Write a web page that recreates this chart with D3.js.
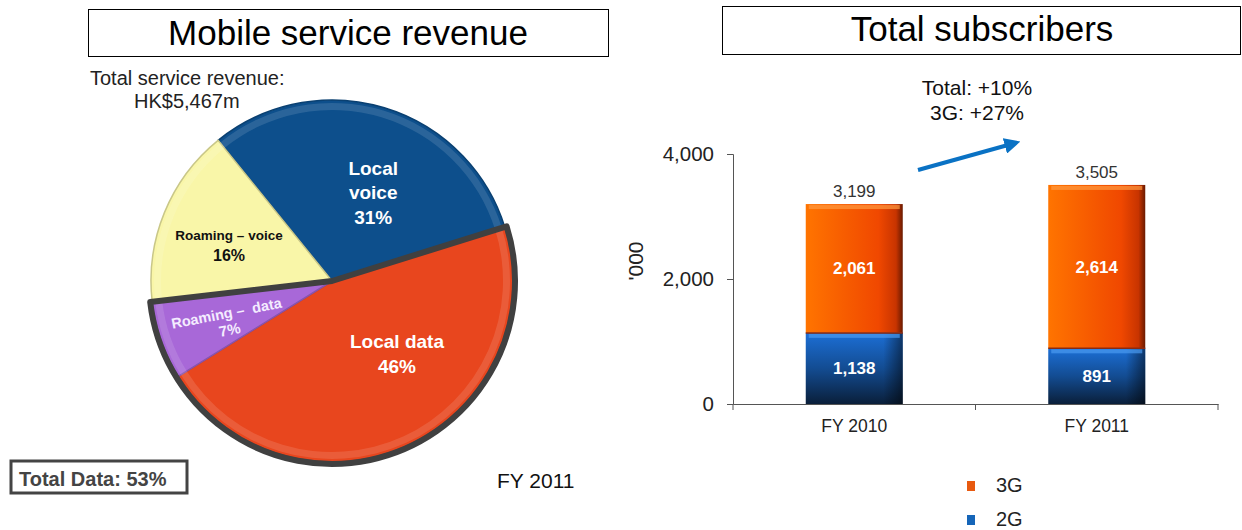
<!DOCTYPE html>
<html>
<head>
<meta charset="utf-8">
<script src="https://cdn.jsdelivr.net/npm/d3@7"></script>
<style>
  body { margin: 0; background: #fff; }
  text { font-family: "Liberation Sans", Arial, sans-serif; }
</style>
</head>
<body>
<div id="chart"></div>
<script>
// pie data (FY 2011 service revenue)
var sliceNames = ["Local voice", "Local data", "Roaming - data", "Roaming - voice"];
var sliceValues = [31, 46, 7, 16];
var sliceLabels = [["Local", "voice", "31%"], ["Local data", "46%"], ["Roaming \u2013  data", "7%"], ["Roaming \u2013 voice", "16%"]];

// bar data (subscribers, '000)
var years = ["FY 2010", "FY 2011"];
var series2G = [1138, 891];
var series3G = [2061, 2614];
var yTicks = [0, 2000, 4000];

var width = 1242, height = 530;
var svg = d3.select("#chart").append("svg").attr("width", width).attr("height", height);
var defs = svg.append("defs");

// gradients
var g3 = defs.append("linearGradient").attr("id", "g3").attr("x1", 0).attr("x2", 1).attr("y1", 0).attr("y2", 0);
g3.append("stop").attr("offset", "0").attr("stop-color", "#ff7400");
g3.append("stop").attr("offset", "0.75").attr("stop-color", "#f04800");
g3.append("stop").attr("offset", "0.93").attr("stop-color", "#c83400");
g3.append("stop").attr("offset", "1").attr("stop-color", "#6a1a00");
var g2 = defs.append("linearGradient").attr("id", "g2").attr("x1", 0).attr("x2", 0).attr("y1", 0).attr("y2", 1);
g2.append("stop").attr("offset", "0").attr("stop-color", "#1c6fd6");
g2.append("stop").attr("offset", "0.5").attr("stop-color", "#134c92");
g2.append("stop").attr("offset", "1").attr("stop-color", "#0a1f3a");
var gShade = defs.append("linearGradient").attr("id", "gshade").attr("x1", 0).attr("x2", 1).attr("y1", 0).attr("y2", 0);
gShade.append("stop").attr("offset", "0.8").attr("stop-color", "#000").attr("stop-opacity", 0);
gShade.append("stop").attr("offset", "1").attr("stop-color", "#000").attr("stop-opacity", 0.5);

// ---------- left panel: pie ----------
svg.append("rect").attr("x", 88.5).attr("y", 9.5).attr("width", 520).attr("height", 47)
    .attr("fill", "none").attr("stroke", "#000").attr("stroke-width", 1);
svg.append("text").attr("x", 348).attr("y", 45).attr("text-anchor", "middle")
    .style("font-size", "35px").text("Mobile service revenue");

svg.append("text").attr("x", 90).attr("y", 85).style("font-size", "20px").attr("fill", "#222")
    .text("Total service revenue:");
svg.append("text").attr("x", 134).attr("y", 108).style("font-size", "20px").attr("fill", "#222")
    .text("HK$5,467m");

var cx = 332, cy = 281, r = 181;
var sliceColors = ["#0d4f8c", "#e8461e", "#a868d8", "#f9f6a8"];
var labelColors = ["#fff", "#fff", "#f4ecff", "#111"];
var labelSizes = [19, 19, 14.5, 13.5];
var lastSizes = [19, 19, 15, 16];
var lineHeights = [24.5, 25, 17, 21];
var labelNudge = [[10, 15], [20, -25], [-2, 5], [-3, 6]];
var labelRot = [0, 0, -11, 0];

var pie = d3.pie().sort(null).value(function(d) { return d; })
    .startAngle(-39 * Math.PI / 180).endAngle(2 * Math.PI - 39 * Math.PI / 180);
var arcs = pie(sliceValues);
var arc = d3.arc().innerRadius(0).outerRadius(r);
var hiArc = d3.arc().innerRadius(r - 10).outerRadius(r - 3);
var labelArc = d3.arc().innerRadius(108).outerRadius(108);

var pg = svg.append("g").attr("transform", "translate(" + cx + "," + cy + ")");
pg.selectAll(".slice").data(arcs).enter().append("path")
    .attr("class", "slice")
    .attr("d", arc)
    .attr("fill", function(d, i) { return sliceColors[i]; })
    .attr("stroke", function(d, i) { return d3.color(sliceColors[i]).darker(0.6); })
    .attr("stroke-width", 1.5);
// soft rim highlight
pg.selectAll(".rim").data(arcs).enter().append("path")
    .attr("d", hiArc)
    .attr("fill", "#fff").attr("opacity", 0.12);

// outline of data slices
var dataArc = {startAngle: arcs[1].startAngle, endAngle: arcs[2].endAngle};
pg.append("path").attr("d", d3.arc().innerRadius(0).outerRadius(r + 2)(dataArc))
    .attr("fill", "none").attr("stroke", "#404040").attr("stroke-width", 6)
    .attr("stroke-linejoin", "round");

arcs.forEach(function(d, i) {
    var c = labelArc.centroid(d);
    var lines = sliceLabels[i];
    var fs = labelSizes[i];
    var lh = lineHeights[i];
    var t = pg.append("text")
        .attr("text-anchor", "middle")
        .attr("fill", labelColors[i])
        .style("font-size", fs + "px").style("font-weight", "bold")
        .attr("transform", "translate(" + (c[0] + labelNudge[i][0]) + "," + (c[1] + labelNudge[i][1]) + ") rotate(" + labelRot[i] + ")");
    lines.forEach(function(s, k) {
        t.append("tspan").attr("x", 0)
            .attr("y", (k - (lines.length - 1) / 2) * lh + fs * 0.35)
            .style("font-size", (k === lines.length - 1 ? lastSizes[i] : fs) + "px")
            .style("white-space", "pre")
            .text(s);
    });
});

// total data box
svg.append("rect").attr("x", 11).attr("y", 461).attr("width", 176).attr("height", 32)
    .attr("fill", "none").attr("stroke", "#444").attr("stroke-width", 3);
svg.append("text").attr("x", 19).attr("y", 486).style("font-size", "20px").style("font-weight", "bold")
    .attr("fill", "#444").text("Total Data: 53%");
svg.append("text").attr("x", 497).attr("y", 488).style("font-size", "21px").attr("fill", "#111")
    .text("FY 2011");

// ---------- right panel: stacked bars ----------
svg.append("rect").attr("x", 722.5).attr("y", 6.5).attr("width", 518).attr("height", 48)
    .attr("fill", "none").attr("stroke", "#000").attr("stroke-width", 1);
svg.append("text").attr("x", 982).attr("y", 41).attr("text-anchor", "middle")
    .style("font-size", "35px").text("Total subscribers");

var x = d3.scaleBand().domain(years).range([733, 1218]).padding(0);
var y = d3.scaleLinear().domain([0, 4000]).range([404, 154]);
var bw = x.bandwidth() * 0.4;

var yaxis = svg.append("g").attr("transform", "translate(733,0)")
    .call(d3.axisLeft(y).tickValues(yTicks).tickSize(6).tickPadding(13).tickFormat(d3.format(",")));
yaxis.select(".domain").attr("stroke", "#555");
yaxis.selectAll(".tick line").attr("stroke", "#555");
yaxis.selectAll(".tick text").style("font-size", "20.5px").attr("fill", "#222")
    .style("font-family", "Liberation Sans, Arial, sans-serif");

var xaxis = svg.append("g").attr("transform", "translate(0,404)")
    .call(d3.axisBottom(x).tickSize(0).tickPadding(16));
xaxis.select(".domain").attr("stroke", "#555");
xaxis.selectAll(".tick text").style("font-size", "17.5px").attr("fill", "#222")
    .style("font-family", "Liberation Sans, Arial, sans-serif");
// boundary ticks
var bounds = [x.range()[0], x(years[1]), x.range()[1]];
svg.selectAll(".btick").data(bounds).enter().append("line")
    .attr("x1", function(d) { return d; }).attr("x2", function(d) { return d; })
    .attr("y1", 404).attr("y2", 410).attr("stroke", "#555");

svg.append("text").attr("transform", "translate(643,261) rotate(-90)").attr("text-anchor", "middle")
    .style("font-size", "21px").attr("fill", "#222").text("'000");

var bars = svg.append("g");
years.forEach(function(yr, i) {
    var x0 = x(yr) + (x.bandwidth() - bw) / 2;
    var v2 = series2G[i], v3 = series3G[i], tot = v2 + v3;
    // 2G
    bars.append("rect").attr("x", x0).attr("y", y(v2)).attr("width", bw).attr("height", y(0) - y(v2))
        .attr("fill", "url(#g2)");
    bars.append("rect").attr("x", x0).attr("y", y(v2)).attr("width", bw).attr("height", y(0) - y(v2))
        .attr("fill", "url(#gshade)");
    bars.append("rect").attr("x", x0 + 3).attr("y", y(v2) + 1).attr("width", bw - 6).attr("height", 4)
        .attr("fill", "#4a9af0").attr("opacity", 0.7);
    // 3G
    bars.append("rect").attr("x", x0).attr("y", y(tot)).attr("width", bw).attr("height", y(v2) - y(tot))
        .attr("fill", "url(#g3)");
    bars.append("rect").attr("x", x0 + 3).attr("y", y(tot) + 1).attr("width", bw - 6).attr("height", 4)
        .attr("fill", "#ff9a40").attr("opacity", 0.7);
    bars.append("line").attr("x1", x0).attr("x2", x0 + bw).attr("y1", y(v2)).attr("y2", y(v2))
        .attr("stroke", "#8a2a10").attr("stroke-width", 1.5);

    var cxb = x0 + bw / 2;
    bars.append("text").attr("x", cxb).attr("y", (y(0) + y(v2)) / 2 + 6).attr("text-anchor", "middle")
        .attr("fill", "#fff").style("font-size", "17px").style("font-weight", "bold").text(d3.format(",")(v2));
    bars.append("text").attr("x", cxb).attr("y", (y(v2) + y(tot)) / 2 + 6).attr("text-anchor", "middle")
        .attr("fill", "#fff").style("font-size", "17px").style("font-weight", "bold").text(d3.format(",")(v3));
    bars.append("text").attr("x", cxb).attr("y", y(tot) - 7).attr("text-anchor", "middle")
        .attr("fill", "#333").style("font-size", "17px").text(d3.format(",")(tot));
});

// growth annotation
svg.append("text").attr("x", 977).attr("y", 95).attr("text-anchor", "middle").style("font-size", "21px")
    .attr("fill", "#111").text("Total: +10%");
svg.append("text").attr("x", 977).attr("y", 120).attr("text-anchor", "middle").style("font-size", "21px")
    .attr("fill", "#111").text("3G: +27%");
defs.append("marker").attr("id", "ah").attr("viewBox", "0 0 10 10").attr("refX", 2).attr("refY", 5)
    .attr("markerWidth", 4).attr("markerHeight", 4).attr("orient", "auto")
    .append("path").attr("d", "M0,0 L10,5 L0,10 Z").attr("fill", "#0a72c4");
svg.append("line").attr("x1", 918).attr("y1", 170).attr("x2", 1008).attr("y2", 145)
    .attr("stroke", "#0a72c4").attr("stroke-width", 4).attr("marker-end", "url(#ah)");

// legend
var legendNames = ["3G", "2G"];
var legendColors = ["#e85a10", "#1565b8"];
legendNames.forEach(function(n, i) {
    var ly = 481 + i * 34;
    svg.append("rect").attr("x", 967).attr("y", ly).attr("width", 8).attr("height", 10).attr("fill", legendColors[i]);
    svg.append("text").attr("x", 996).attr("y", ly + 11).style("font-size", "20px").attr("fill", "#222").text(n);
});
</script>
</body>
</html>
